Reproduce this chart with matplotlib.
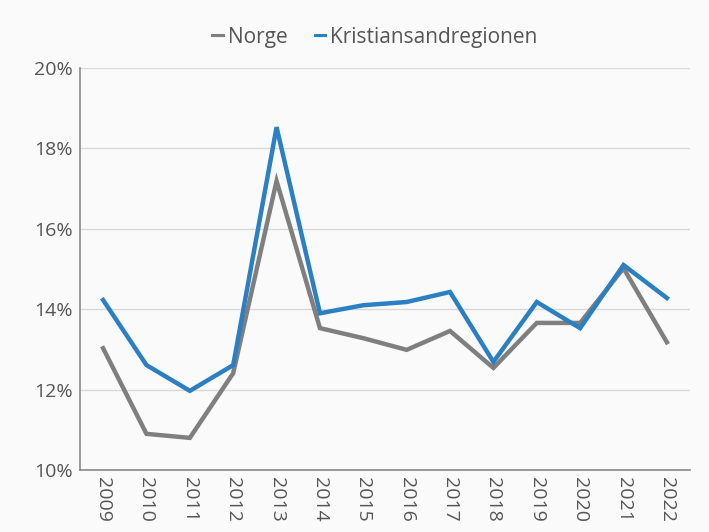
import numpy as np
import matplotlib
matplotlib.use("Agg")
import matplotlib.pyplot as plt
from matplotlib.ticker import FuncFormatter

years = list(range(2009, 2023))
norge = [13.03, 10.90, 10.80, 12.41, 17.19, 13.53, 13.28, 12.99, 13.46, 12.54, 13.66, 13.66, 15.02, 13.18]
kristiansand = [14.23, 12.61, 11.97, 12.61, 18.53, 13.90, 14.10, 14.18, 14.43, 12.69, 14.18, 13.53, 15.10, 14.28]

plt.rcParams["font.family"] = ["Open Sans", "DejaVu Sans"]

fig = plt.figure(figsize=(7.09, 5.32), dpi=100, facecolor="#fafafa")
ax = fig.add_axes([0.113, 0.1165, 0.86, 0.7555])
ax.set_facecolor("#fafafa")

ax.plot(years, norge, color="#7f7f7f", lw=3.2, label="Norge", solid_joinstyle="miter")
ax.plot(years, kristiansand, color="#2a80c2", lw=3.2, label="Kristiansandregionen", solid_joinstyle="miter")

ax.set_ylim(10, 20)
ax.set_xlim(2008.47, 2022.53)
ax.set_yticks([10, 12, 14, 16, 18, 20])
ax.yaxis.set_major_formatter(FuncFormatter(lambda v, _: f"{v:.0f}%"))
ax.set_xticks(years)
ax.set_xticklabels([str(y) for y in years], rotation=270, va="top", ha="center")
ax.tick_params(axis="both", length=0, labelsize=14, colors="#555555")
ax.tick_params(axis="x", pad=5)
ax.tick_params(axis="y", pad=5)

ax.grid(axis="y", color="#d9d9d9", lw=1)
ax.set_axisbelow(True)
for s in ["top", "right"]:
    ax.spines[s].set_visible(False)
for s in ["left", "bottom"]:
    ax.spines[s].set_color("#888888")
    ax.spines[s].set_linewidth(1.2)

leg = fig.legend(loc="center", bbox_to_anchor=(0.529, 0.93), ncol=2, frameon=False,
                 fontsize=15, handlelength=0.5, handletextpad=0.25, columnspacing=1.3)
for t in leg.get_texts():
    t.set_color("#555555")
for h in leg.get_lines():
    h.set_linewidth(2.2)

fig.savefig("out.png", dpi=100, facecolor=fig.get_facecolor())
